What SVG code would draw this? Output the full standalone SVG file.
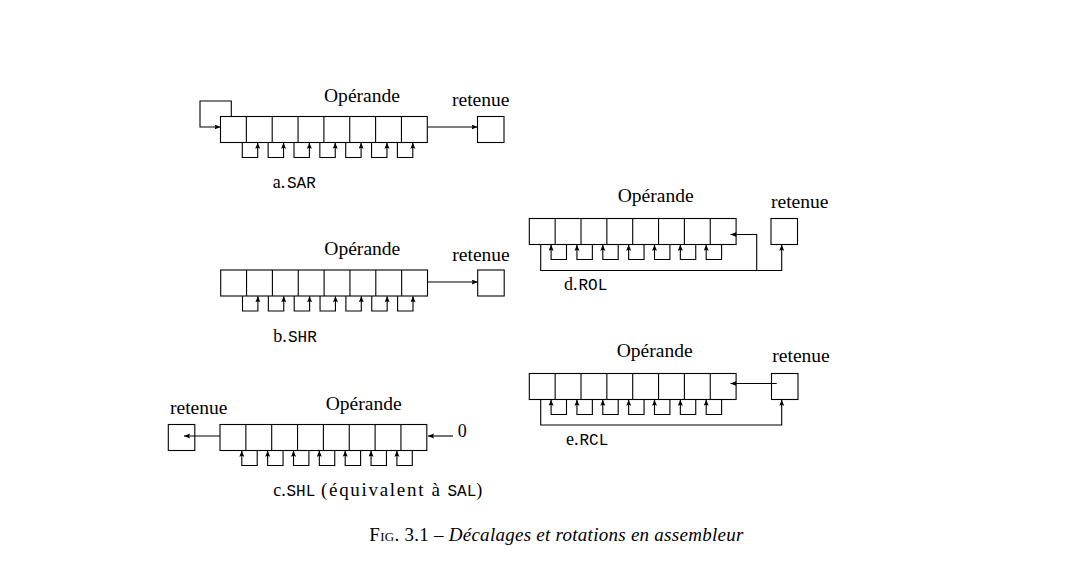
<svg xmlns="http://www.w3.org/2000/svg" width="1080" height="585" viewBox="0 0 1080 585">
<style>
.box{fill:none;stroke:#000;stroke-width:1.1}
.ln{fill:none;stroke:#000;stroke-width:1.1;marker-end:url(#ah)}
.t{font-family:"Liberation Serif","Times New Roman",serif;font-size:18px;fill:#000}
.m{font-family:"Liberation Mono","Courier New",monospace;font-size:16px}
.cap{font-family:"Liberation Serif","Times New Roman",serif;font-size:19px;fill:#000}
</style>
<defs>
<marker id="ah" markerUnits="userSpaceOnUse" markerWidth="8" markerHeight="6" refX="6" refY="2.5" orient="auto">
<path d="M0,0 L6,2.5 L0,5 L1,2.5 z" fill="#000"/>
</marker>
<g id="reg">
<rect class="box" x="0" y="0" width="206.8" height="26"/>
<path class="box" d="M25.85,0v26M51.7,0v26M77.55,0v26M103.4,0v26M129.25,0v26M155.1,0v26M180.95,0v26"/>
</g>
<g id="loopsR">
<path class="ln" d="M21.8,26V41H37.2V26.2"/>
<path class="ln" d="M47.65,26V41H63.05V26.2"/>
<path class="ln" d="M73.5,26V41H88.9V26.2"/>
<path class="ln" d="M99.35,26V41H114.75V26.2"/>
<path class="ln" d="M125.2,26V41H140.6V26.2"/>
<path class="ln" d="M151.05,26V41H166.45V26.2"/>
<path class="ln" d="M176.9,26V41H192.3V26.2"/>
</g>
<g id="loopsL">
<path class="ln" d="M37.2,26V41H21.8V26.2"/>
<path class="ln" d="M63.05,26V41H47.65V26.2"/>
<path class="ln" d="M88.9,26V41H73.5V26.2"/>
<path class="ln" d="M114.75,26V41H99.35V26.2"/>
<path class="ln" d="M140.6,26V41H125.2V26.2"/>
<path class="ln" d="M166.45,26V41H151.05V26.2"/>
<path class="ln" d="M192.3,26V41H176.9V26.2"/>
</g>
</defs>
<rect width="1080" height="585" fill="#fff"/>

<!-- a. SAR -->
<g id="a-operande"><use href="#reg" x="220.5" y="116.5"/></g>
<g id="a-retenue"><rect class="box" x="477.5" y="116.5" width="26.5" height="26"/></g>
<!-- b. SHR -->
<g id="b-operande"><use href="#reg" x="220.7" y="270"/></g>
<g id="b-retenue"><rect class="box" x="477.7" y="270" width="26.5" height="26"/></g>
<!-- c. SHL -->
<g id="c-operande"><use href="#reg" x="220" y="424.5"/></g>
<g id="c-retenue"><rect class="box" x="168.3" y="424.5" width="26.5" height="26"/></g>
<!-- d. ROL -->
<g id="d-operande"><use href="#reg" x="529.3" y="218.5"/></g>
<g id="d-retenue"><rect class="box" x="771" y="218.5" width="26.5" height="26"/></g>
<!-- e. RCL -->
<g id="e-operande"><use href="#reg" x="529.3" y="373.5"/></g>
<g id="e-retenue"><rect class="box" x="771.5" y="373.5" width="26.5" height="26"/></g>

<g id="connectors">
<path class="ln" d="M231.3,116.5V101H200V127H220.5"/>
<path class="ln" d="M427.3,127H477.5"/>
<use href="#loopsR" x="220.5" y="116.5"/>

<path class="ln" d="M427.5,282H477.7"/>
<use href="#loopsR" x="220.7" y="270"/>

<path class="ln" d="M220,436H184"/>
<path class="ln" d="M453,436H428"/>
<use href="#loopsL" x="220" y="424.5"/>

<path class="ln" d="M540.7,244.5V270.5H781.7V244.7"/>
<path class="ln" d="M756.7,270.5V234.5H730.5"/>
<use href="#loopsL" x="529.3" y="218.5"/>

<path class="ln" d="M540.7,399.5V425H781.7V399.7"/>
<path class="ln" d="M776.7,383.5H730.5"/>
<use href="#loopsL" x="529.3" y="373.5"/>
</g>

<g id="labels">
<text class="t" x="324" y="101.5" textLength="76" lengthAdjust="spacingAndGlyphs">Opérande</text>
<text class="t" x="452" y="106" textLength="57.5" lengthAdjust="spacingAndGlyphs">retenue</text>
<text class="t" x="272.7" y="188">a.<tspan class="m" x="287">SAR</tspan></text>

<text class="t" x="324.3" y="254.5" textLength="76" lengthAdjust="spacingAndGlyphs">Opérande</text>
<text class="t" x="452.3" y="260.5" textLength="57.5" lengthAdjust="spacingAndGlyphs">retenue</text>
<text class="t" x="273.3" y="341.7">b.<tspan class="m" x="288">SHR</tspan></text>

<text class="t" x="325.7" y="409.5" textLength="76" lengthAdjust="spacingAndGlyphs">Opérande</text>
<text class="t" x="170" y="413.5" textLength="57.5" lengthAdjust="spacingAndGlyphs">retenue</text>
<text class="t" x="457.7" y="437">0</text>
<text class="t" x="273.3" y="496">c.<tspan class="m" x="286.5">SHL</tspan></text>
<text class="t" x="321" y="496" style="font-size:19px" textLength="119" lengthAdjust="spacing">(équivalent à</text>
<text class="t" x="447.5" y="496"><tspan class="m">SAL</tspan>)</text>

<text class="t" x="617.7" y="202" textLength="76" lengthAdjust="spacingAndGlyphs">Opérande</text>
<text class="t" x="771" y="207.7" textLength="57.5" lengthAdjust="spacingAndGlyphs">retenue</text>
<text class="t" x="564" y="289.5">d.<tspan class="m" x="578.5">ROL</tspan></text>

<text class="t" x="616.7" y="357" textLength="76" lengthAdjust="spacingAndGlyphs">Opérande</text>
<text class="t" x="772.3" y="361.7" textLength="57.5" lengthAdjust="spacingAndGlyphs">retenue</text>
<text class="t" x="566" y="444.5">e.<tspan class="m" x="579.5">RCL</tspan></text>
</g>

<g id="caption">
<text class="cap" x="369.3" y="541" textLength="374" lengthAdjust="spacing"><tspan font-variant="small-caps">Fig.</tspan> 3.1 – <tspan font-style="italic">Décalages et rotations en assembleur</tspan></text>
</g>
</svg>
